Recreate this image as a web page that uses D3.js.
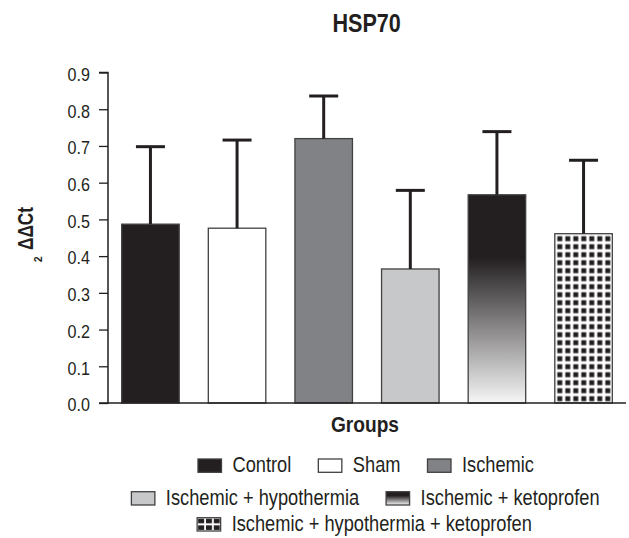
<!DOCTYPE html>
<html>
<head>
<meta charset="utf-8">
<script src="https://cdn.jsdelivr.net/npm/d3@7"></script>
<style>
  html, body { margin: 0; padding: 0; background: #fff; }
  svg { display: block; }
  text { font-family: "Liberation Sans", Arial, sans-serif; fill: #231f20; }
</style>
</head>
<body>
<svg id="chart" width="629" height="538"></svg>
<script>
const categories = ["Control", "Sham", "Ischemic", "Ischemic + hypothermia", "Ischemic + ketoprofen", "Ischemic + hypothermia + ketoprofen"];
const means = [0.487, 0.476, 0.720, 0.365, 0.567, 0.461];
const errors = [0.211, 0.240, 0.116, 0.214, 0.172, 0.200];
const yTicks = [0.0, 0.1, 0.2, 0.3, 0.4, 0.5, 0.6, 0.7, 0.8, 0.9];
const legendRows = [[0, 1, 2], [3, 4], [5]];

const svg = d3.select("#chart");
const defs = svg.append("defs");
const dark = "#231f20";

// condense a text horizontally (reference uses a condensed face)
function condense(sel, f) {
  sel.each(function() {
    const w = this.getComputedTextLength();
    d3.select(this).attr("textLength", w * f).attr("lengthAdjust", "spacingAndGlyphs");
  });
  return sel;
}

// gradient for ketoprofen
const grad = defs.append("linearGradient").attr("id", "ketoGrad")
  .attr("x1", 0).attr("y1", 0).attr("x2", 0).attr("y2", 1);
grad.append("stop").attr("offset", "0").attr("stop-color", "#231f20");
grad.append("stop").attr("offset", "0.3").attr("stop-color", "#231f20");
grad.append("stop").attr("offset", "1").attr("stop-color", "#f6f6f6");

const fills = [dark, "#ffffff", "#808285", "#c7c8ca", "url(#ketoGrad)", "url(#gridPatBar)"];

const x0 = 108, x1 = 626, yTop = 72.5, yBot = 403;
const x = d3.scaleBand().domain(categories).range([x0, x1]).paddingInner(0.336).paddingOuter(0.158);
const y = d3.scaleLinear().domain([0, 0.9]).range([yBot, yTop]);

// bar pattern
const pb = defs.append("pattern").attr("id", "gridPatBar")
  .attr("patternUnits", "userSpaceOnUse")
  .attr("x", x(categories[5])).attr("y", y(means[5])).attr("width", 8).attr("height", 8);
pb.append("rect").attr("width", 8).attr("height", 8).attr("fill", "#fff");
pb.append("rect").attr("x", 2.5).attr("y", 2.5).attr("width", 5).attr("height", 5).attr("fill", dark);

// legend pattern (3 x 2 cells per swatch)
const pl = defs.append("pattern").attr("id", "gridPatLeg")
  .attr("patternUnits", "objectBoundingBox")
  .attr("x", 0).attr("y", 0).attr("width", 1 / 3).attr("height", 0.5);
pl.append("rect").attr("width", 12).attr("height", 12).attr("fill", "#fff");
pl.append("rect").attr("x", 1).attr("y", 1).attr("width", 6).attr("height", 4.6).attr("fill", dark);

// bars
svg.append("g").selectAll("rect").data(categories).join("rect")
  .attr("x", d => x(d))
  .attr("y", (d, i) => y(means[i]))
  .attr("width", x.bandwidth())
  .attr("height", (d, i) => y(0) - y(means[i]))
  .attr("fill", (d, i) => fills[i])
  .attr("stroke", "#414042")
  .attr("stroke-width", 1.3);

// error bars
const errG = svg.append("g").attr("stroke", dark).attr("stroke-width", 3);
categories.forEach((c, i) => {
  const cx = x(c) + x.bandwidth() / 2;
  errG.append("line").attr("x1", cx).attr("x2", cx)
    .attr("y1", y(means[i])).attr("y2", y(means[i] + errors[i]));
  errG.append("line").attr("x1", cx - 14.5).attr("x2", cx + 14.5)
    .attr("y1", y(means[i] + errors[i])).attr("y2", y(means[i] + errors[i]));
});

// y axis
const yAxis = d3.axisLeft(y).tickValues(yTicks).tickFormat(d3.format(".1f")).tickSize(9).tickPadding(9);
const yg = svg.append("g").attr("transform", `translate(${x0},0)`).call(yAxis);
yg.select(".domain").attr("stroke", dark).attr("stroke-width", 1.5).attr("d", `M-9,${yTop}H0V${yBot}H-9`);
yg.selectAll(".tick line").attr("stroke", dark).attr("stroke-width", 1.3);
const tickTexts = yg.selectAll(".tick text").style("font-size", "18.5px").attr("fill", dark)
  .style("font-family", '"Liberation Sans", Arial, sans-serif').attr("dy", "0.42em");
condense(tickTexts, 0.87);

// x axis line
svg.append("line").attr("x1", x0).attr("x2", 626).attr("y1", yBot).attr("y2", yBot)
  .attr("stroke", dark).attr("stroke-width", 1.5);

// title
condense(svg.append("text").attr("x", 366.7).attr("y", 31.7).attr("text-anchor", "middle")
  .style("font-size", "26px").style("font-weight", "bold").text("HSP70"), 0.83);

// x label
condense(svg.append("text").attr("x", 365).attr("y", 432.3).attr("text-anchor", "middle")
  .style("font-size", "22px").style("font-weight", "bold").text("Groups"), 0.87);

// y label
svg.append("text").attr("transform", "translate(42,262) rotate(-90)")
  .style("font-size", "10px").style("font-weight", "bold").text("2");
const ylab = svg.append("text").attr("transform", "translate(33,250) rotate(-90)")
  .style("font-size", "22px").style("font-weight", "bold").text("ΔΔCt");
ylab.attr("textLength", 43).attr("lengthAdjust", "spacingAndGlyphs");

// legend
const legFills = fills.slice(0, 5).concat(["url(#gridPatLeg)"]);
const rowBase = [472.3, 505, 531];
const rowCenter = [366, 365.5, 364.5];
const swW = 23.5, swH = 13.3, swGap = 11, itemGap = 27, sx = 0.83;
legendRows.forEach((row, r) => {
  const g = svg.append("g");
  let cx = 0;
  row.forEach(i => {
    const it = g.append("g").attr("transform", `translate(${cx},0)`);
    it.append("rect").attr("x", 0).attr("y", rowBase[r] - swH).attr("width", swW).attr("height", swH)
      .attr("fill", legFills[i]).attr("stroke", "#414042").attr("stroke-width", 1.3);
    const tg = it.append("g").attr("transform", `translate(${swW + swGap},${rowBase[r]}) scale(${sx},1)`);
    const t = tg.append("text").attr("x", 0).attr("y", 0)
      .style("font-size", "22px").text(categories[i]);
    const w = t.node().getComputedTextLength() * sx;
    cx += swW + swGap + w + itemGap;
  });
  const total = cx - itemGap;
  g.attr("transform", `translate(${rowCenter[r] - total / 2},0)`);
});
</script>
</body>
</html>
